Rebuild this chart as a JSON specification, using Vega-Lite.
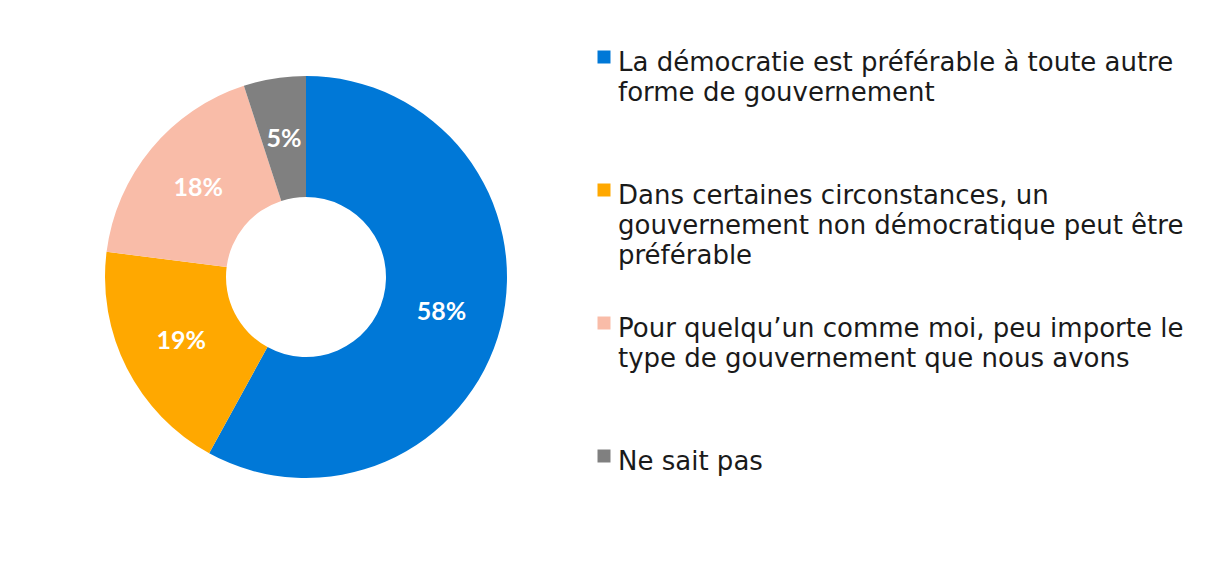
{
  "$schema": "https://vega.github.io/schema/vega-lite/v6.json",
  "width": 598,
  "height": 548,
  "padding": {"left": 7, "top": 3, "right": 0, "bottom": 0},
  "background": "white",
  "config": {"view": {"stroke": null}},
  "data": {
    "values": [
      {"cat": "La démocratie est préférable à toute autre|forme de gouvernement", "pct": 0.58},
      {"cat": "Dans certaines circonstances, un|gouvernement non démocratique peut être|préférable", "pct": 0.19},
      {"cat": "Pour quelqu’un comme moi, peu importe le|type de gouvernement que nous avons", "pct": 0.18},
      {"cat": "Ne sait pas", "pct": 0.05}
    ]
  },
  "encoding": {
    "theta": {"field": "pct", "type": "quantitative", "stack": true},
    "order": {"field": "pct", "type": "quantitative", "sort": "descending"}
  },
  "layer": [
    {
      "mark": {"type": "arc", "radius": 201, "radius2": 80},
      "encoding": {
        "color": {
          "field": "cat",
          "type": "nominal",
          "sort": [
            "La démocratie est préférable à toute autre|forme de gouvernement",
            "Dans certaines circonstances, un|gouvernement non démocratique peut être|préférable",
            "Pour quelqu’un comme moi, peu importe le|type de gouvernement que nous avons",
            "Ne sait pas"
          ],
          "scale": {
            "domain": [
              "La démocratie est préférable à toute autre|forme de gouvernement",
              "Dans certaines circonstances, un|gouvernement non démocratique peut être|préférable",
              "Pour quelqu’un comme moi, peu importe le|type de gouvernement que nous avons",
              "Ne sait pas"
            ],
            "range": ["#0078D7", "#FFA800", "#F9BCA8", "#808080"]
          },
          "legend": {
            "title": null,
            "orient": "none",
            "legendX": 584,
            "legendY": 41,
            "symbolType": "square",
            "symbolSize": 169,
            "symbolStrokeWidth": 0,
            "labelFont": "DejaVu Sans",
            "labelFontSize": 26,
            "labelColor": "#1a1a1a",
            "labelLimit": 800,
            "labelBaseline": "top",
            "labelOffset": 1,
            "gridAlign": "all",
            "rowPadding": 41,
            "labelExpr": "split(datum.label, '|')",
            "encode": {"labels": {"update": {"lineHeight": {"value": 30}, "dy": {"value": -7}}}}
          }
        }
      }
    },
    {
      "mark": {"type": "text", "radius": 140, "font": "Lato", "fontWeight": "bold", "fontSize": 25, "fill": "white"},
      "encoding": {
        "text": {"field": "pct", "type": "quantitative", "format": ".0%"}
      }
    }
  ]
}
